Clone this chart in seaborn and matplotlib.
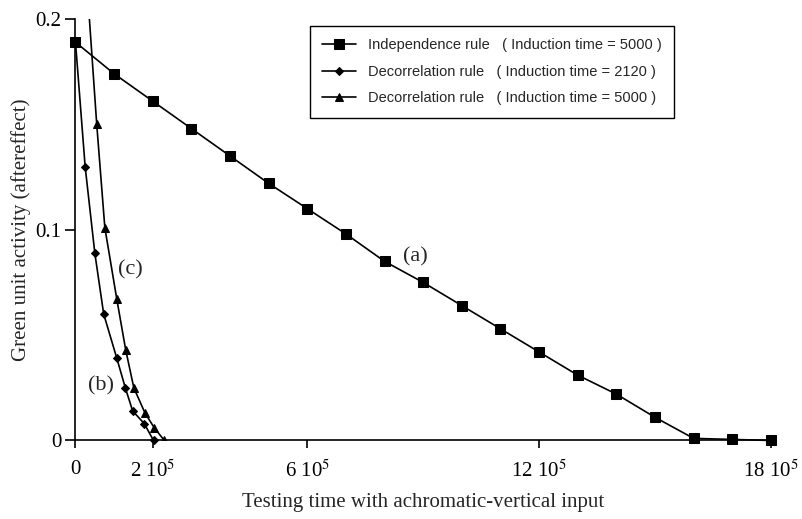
import matplotlib
matplotlib.use("Agg")
import matplotlib.pyplot as plt
import seaborn as sns
import numpy as np
import pandas as pd

# ---- data (x in units of testing time, y = green unit activity) ----
indep_x = [0, 1e5, 2e5, 3e5, 4e5, 5e5, 6e5, 7e5, 8e5, 9e5, 10e5, 11e5, 12e5,
           13e5, 14e5, 15e5, 16e5, 17e5, 18e5]
indep_y = [0.189, 0.174, 0.161, 0.148, 0.135, 0.122, 0.110, 0.098, 0.085,
           0.075, 0.064, 0.053, 0.042, 0.031, 0.022, 0.011, 0.001, 0.0005, 0.0]

decor2120_x = [0, 0.25e5, 0.50e5, 0.73e5, 1.07e5, 1.29e5, 1.48e5, 1.78e5, 2.02e5]
decor2120_y = [0.189, 0.130, 0.089, 0.060, 0.039, 0.025, 0.014, 0.008, 0.0]

decor5000_x = [0, 0.55e5, 0.76e5, 1.07e5, 1.30e5, 1.51e5, 1.80e5, 2.04e5, 2.30e5]
decor5000_y = [0.295, 0.150, 0.101, 0.067, 0.043, 0.025, 0.013, 0.006, 0.0]

series_labels = ["Independence rule   ( Induction time = 5000 )",
                 "Decorrelation rule   ( Induction time = 2120 )",
                 "Decorrelation rule   ( Induction time = 5000 )"]

xtick_vals = [0, 2e5, 6e5, 12e5, 18e5]
xtick_labels = ["0", r"2 10$^5$", r"6 10$^5$", r"12 10$^5$", r"18 10$^5$"]
ytick_vals = [0, 0.1, 0.2]
ytick_labels = ["0", "0.1", "0.2"]

annotations = [("(a)", 8.81e5, 0.087), ("(c)", 1.41e5, 0.081), ("(b)", 0.66e5, 0.026)]

# ---- style ----
sns.set_theme(style="white")
plt.rcParams["font.family"] = ["Liberation Serif", "DejaVu Serif"]
plt.rcParams["mathtext.fontset"] = "stix"

fig = plt.figure(figsize=(8.03, 5.19), dpi=100)
ax = fig.add_axes([0.094, 0.1513, 0.866, 0.8121])

df_a = pd.DataFrame({"x": indep_x, "y": indep_y})
df_b = pd.DataFrame({"x": decor2120_x, "y": decor2120_y})
df_c = pd.DataFrame({"x": decor5000_x, "y": decor5000_y})

sns.lineplot(data=df_a, x="x", y="y", ax=ax, color="black", lw=1.2,
             marker="s", markersize=6.5, markeredgecolor="black",
             label=series_labels[0], estimator=None, sort=False, clip_on=False)
sns.lineplot(data=df_b, x="x", y="y", ax=ax, color="black", lw=1.2,
             marker="D", markersize=4.5, markeredgecolor="black",
             label=series_labels[1], estimator=None, sort=False, clip_on=False)
sns.lineplot(data=df_c, x="x", y="y", ax=ax, color="black", lw=1.2,
             marker="^", markersize=6, markeredgecolor="black",
             label=series_labels[2], estimator=None, sort=False)

ax.set_xlim(0, 18e5)
ax.set_ylim(0, 0.2)
ax.set_xticks(xtick_vals)
ax.set_xticklabels(xtick_labels, fontsize=15)
ax.set_yticks(ytick_vals)
ax.set_yticklabels(ytick_labels, fontsize=15)
ax.tick_params(axis="x", direction="out", length=6, width=1.2, pad=8, bottom=True, colors="black")
ax.tick_params(axis="y", direction="out", length=7, width=1.2, pad=3, left=True, colors="black")

for s in ["top", "right"]:
    ax.spines[s].set_visible(False)
for s in ["left", "bottom"]:
    ax.spines[s].set_color("black")
    ax.spines[s].set_linewidth(1.2)

ax.set_xlabel("Testing time with achromatic-vertical input", fontsize=15, labelpad=8)
ax.set_ylabel("Green unit activity (aftereffect)", fontsize=15, labelpad=3)

for txt, tx, ty in annotations:
    ax.text(tx, ty, txt, fontsize=16, ha="center", va="center")

leg = ax.legend(loc="upper left", bbox_to_anchor=(310 / 803, 1 - 26 / 519),
                bbox_transform=fig.transFigure, frameon=True, fancybox=False,
                edgecolor="black", framealpha=1, handlelength=2.3,
                labelspacing=0.85, borderpad=0.85, handletextpad=0.8,
                borderaxespad=0,
                prop={"family": ["Liberation Sans", "DejaVu Sans"], "size": 10.5})
leg.get_frame().set_linewidth(1.0)

fig.savefig("out.png", dpi=100, facecolor="white")
